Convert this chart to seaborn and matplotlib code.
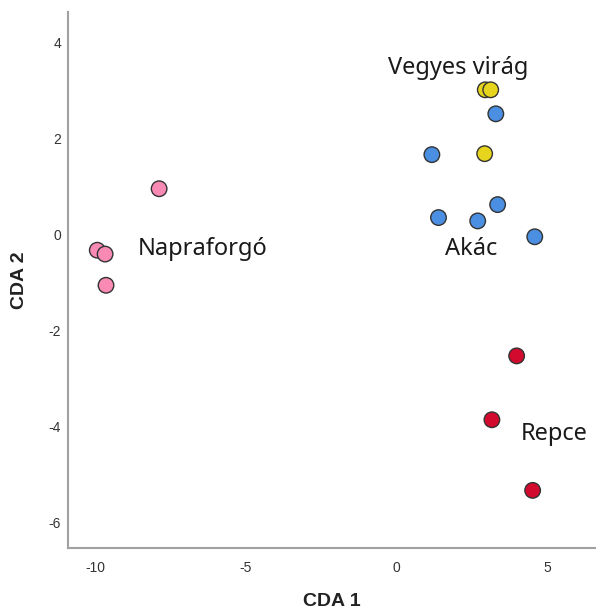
import matplotlib
matplotlib.use("Agg")
import matplotlib.pyplot as plt
import seaborn as sns
import pandas as pd

# Data
groups = ["Napraforgó"] * 4 + ["Vegyes virág"] * 3 + ["Akác"] * 6 + ["Repce"] * 3
cda1 = [-7.88, -9.93, -9.67, -9.64,
        2.93, 3.11, 2.91,
        3.28, 1.16, 1.38, 2.68, 3.34, 4.57,
        3.97, 3.15, 4.50]
cda2 = [0.95, -0.33, -0.41, -1.06,
        3.01, 3.01, 1.68,
        2.51, 1.66, 0.35, 0.28, 0.62, -0.05,
        -2.53, -3.86, -5.33]
palette = {"Napraforgó": "#F98AB4", "Vegyes virág": "#E6D51C",
           "Akác": "#4A8FE2", "Repce": "#D20A2E"}
label_names = ["Vegyes virág", "Napraforgó", "Akác", "Repce"]
label_x = [-0.3, -8.58, 1.58, 4.12]
label_y = [3.34, -0.43, -0.43, -4.29]

df = pd.DataFrame({"CDA 1": cda1, "CDA 2": cda2, "group": groups})

sns.set_style("white")
plt.rcParams["axes.unicode_minus"] = False
fig = plt.figure(figsize=(5.96, 6.12), dpi=100)
ax = fig.add_axes([68/596, 1-548/612, 1-68/596, (548-12)/612])
sns.scatterplot(data=df, x="CDA 1", y="CDA 2", hue="group", palette=palette,
                s=125, edgecolor="#333333", linewidth=1.0, legend=False, ax=ax,
                zorder=3)

for name, lx, ly in zip(label_names, label_x, label_y):
    ax.text(lx, ly, name, family=["Noto Sans", "DejaVu Sans"], fontsize=17,
            color="#1a1a1a", ha="left", va="baseline")

ax.set_xlim(-10.9, 6.6)
ax.set_ylim(-6.53, 4.63)
ax.set_xticks([-10, -5, 0, 5])
ax.set_yticks([-6, -4, -2, 0, 2, 4])
ax.tick_params(length=0, labelsize=10, colors="#333333")
ax.tick_params(axis="x", pad=9)
ax.tick_params(axis="y", pad=5)
for lab in ax.get_xticklabels() + ax.get_yticklabels():
    lab.set_family("Liberation Sans")

for sp in ["top", "right"]:
    ax.spines[sp].set_visible(False)
for sp in ["left", "bottom"]:
    ax.spines[sp].set_color("#A0A0A0")
    ax.spines[sp].set_linewidth(1.5)

ax.set_xlabel("CDA 1", family="Liberation Sans", fontweight="bold", fontsize=14,
              color="#222222", labelpad=13)
ax.set_ylabel("CDA 2", family="Liberation Sans", fontweight="bold", fontsize=14,
              color="#222222", labelpad=15)

fig.savefig("out.png", dpi=100)
